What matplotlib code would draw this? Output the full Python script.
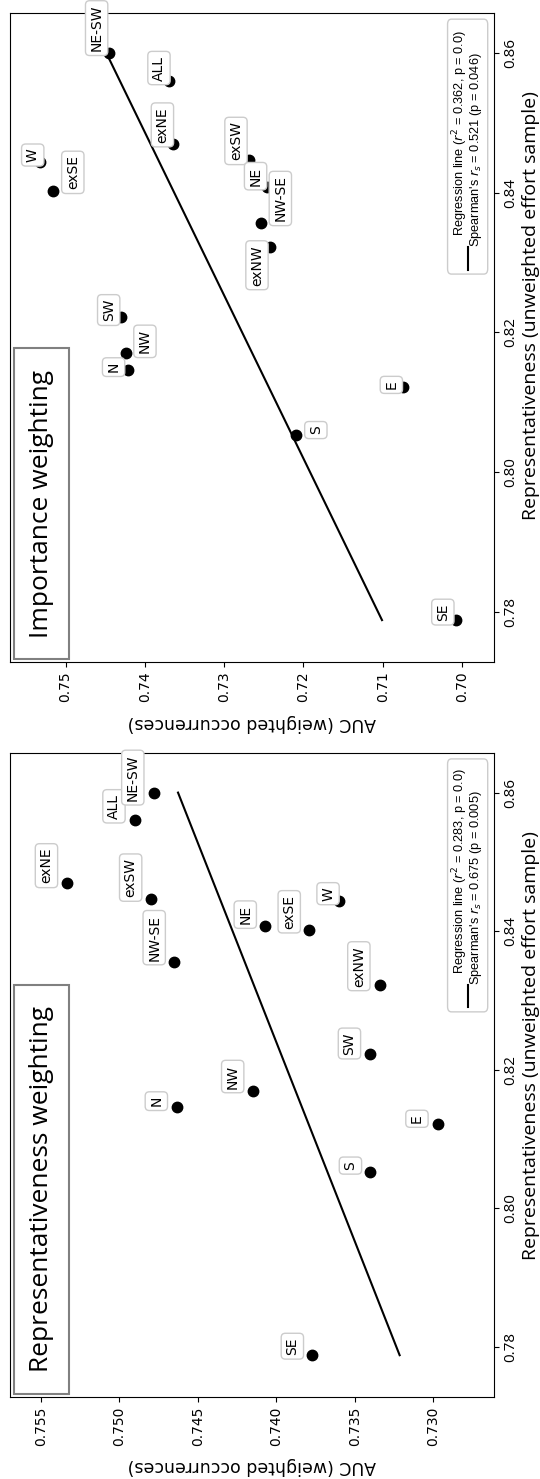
import numpy as np
import matplotlib
matplotlib.use('Agg')
import matplotlib.pyplot as plt
from matplotlib.patches import FancyBboxPatch

# Dados (figura girada 90 graus: AUC na horizontal, representatividade na vertical)
labels = ['ALL', 'NE-SW', 'exNE', 'exSW', 'W', 'exSE', 'NE', 'NW-SE',
          'exNW', 'SW', 'NW', 'N', 'E', 'S', 'SE']
rep = [0.856, 0.860, 0.847, 0.8447, 0.8444, 0.8402, 0.8408, 0.8356,
       0.8322, 0.8222, 0.817, 0.8146, 0.8122, 0.8053, 0.7788]
auc_importance = [0.73695, 0.74456, 0.73639, 0.72686, 0.75325, 0.7516, 0.72464, 0.7253,
                  0.72421, 0.74304, 0.74238, 0.74217, 0.70739, 0.72095, 0.70077]
auc_representativeness = [0.7490, 0.7478, 0.7533, 0.7480, 0.7360, 0.7379, 0.7407, 0.7465,
                          0.7334, 0.7340, 0.7415, 0.7463, 0.7297, 0.7340, 0.7377]
stats_importance = ['0.362', '0.0', '0.521', '0.046']
stats_representativeness = ['0.283', '0.0', '0.675', '0.005']

# deslocamento dos rotulos (pixels)
off_importance = {'NE-SW': (-12, 25), 'ALL': (-10, 13), 'exNE': (-11, 19), 'W': (-7, 7),
                  'exSE': (20, 19), 'exSW': (-13, 19), 'NE': (-11, 11), 'NW-SE': (19, 25),
                  'exNW': (-13, -18), 'SW': (-12, 7), 'NW': (19, 12), 'N': (-14, 3),
                  'E': (-12, 2), 'S': (20, 5), 'SE': (-13, 8)}
off_representativeness = {'NE-SW': (-21, 15), 'ALL': (-21, 14), 'exNE': (-21, 17),
                          'exSW': (-20, 21), 'NW-SE': (-20, 24), 'NE': (-20, 11),
                          'exSE': (-20, 18), 'W': (-11, 7), 'exNW': (-21, 19), 'SW': (-21, 11),
                          'NW': (-20, 14), 'N': (-21, 6), 'E': (-21, 5), 'S': (-20, 6),
                          'SE': (-20, 9)}

plt.rcParams['font.family'] = 'DejaVu Sans'
humanist = ['Open Sans', 'DejaVu Sans']
legfont = ['Liberation Sans', 'DejaVu Sans']

fig = plt.figure(figsize=(5.4, 14.79), dpi=100)
ax_top = fig.add_axes([0.0194, 0.5524, 0.8954, 0.4386])
ax_bot = fig.add_axes([0.0194, 0.0556, 0.8954, 0.4352])


def painel(ax, auc, titulo, stats, offsets, xlim, xticks, ylab_pos):
    ax.plot(auc, rep, 'o', color='black', markersize=7.5, zorder=3)

    # Regressao linear
    slope, intercept = np.polyfit(rep, auc, 1)
    r_range = np.array([min(rep), max(rep)])
    ax.plot(slope * r_range + intercept, r_range, color='black', lw=1.5)

    for lab, a, r in zip(labels, auc, rep):
        ax.annotate(lab, (a, r), xytext=offsets[lab], textcoords='offset pixels',
                    rotation=90, ha='center', va='center', fontsize=10,
                    bbox=dict(boxstyle='round,pad=0.3', fc='white', ec='#cccccc', lw=1),
                    annotation_clip=False, zorder=4)

    ax.set_xlim(*xlim)
    ax.set_ylim(0.7728, 0.8657)
    ax.set_xticks(xticks)
    ax.set_yticks([0.78, 0.80, 0.82, 0.84, 0.86])
    ax.yaxis.tick_right()
    ax.tick_params(axis='x', labelrotation=90, labelsize=10)
    ax.tick_params(axis='y', labelrotation=90, labelsize=11)
    for t in ax.yaxis.get_major_ticks():
        t.label2.set_va('center')
        t.label2.set_family(humanist)

    ax.set_xlabel('AUC (weighted occurrences)', rotation=180, fontsize=12.5, labelpad=8)
    ax.yaxis.set_label_position('right')
    ax.set_ylabel('Representativeness (unweighted effort sample)', rotation=90,
                  fontsize=14, family=humanist)
    ax.yaxis.set_label_coords(1.057, ylab_pos)

    # Caixa do titulo
    h_px = ax.get_position().height * fig.get_figheight() * fig.dpi
    w_px = ax.get_position().width * fig.get_figwidth() * fig.dpi
    ax.text(18.5 / w_px, 17.5 / h_px, ' ' + titulo + ' ', transform=ax.transAxes,
            rotation=90, ha='left', va='bottom', fontsize=19, family=humanist,
            bbox=dict(boxstyle='square,pad=0.56', fc='white', ec='gray', lw=1.5))

    # Legenda desenhada a mao (girada)
    ax.add_patch(FancyBboxPatch((0.904, 0.598), 0.083, 0.393, transform=ax.transAxes,
                                boxstyle='round,pad=0,rounding_size=0.008',
                                fc='white', ec='#cccccc', lw=1, zorder=5))
    ax.plot([0.947, 0.947], [0.605, 0.640], transform=ax.transAxes, color='black',
            lw=1.5, zorder=6)
    ax.text(0.9297, 0.657, 'Regression line ($r^2$ = %s, p = %s)' % (stats[0], stats[1]),
            transform=ax.transAxes, rotation=90, ha='center', va='bottom',
            fontsize=9.2, family=legfont, zorder=6)
    ax.text(0.9638, 0.640, "Spearman's $r_s$ = %s (p = %s)" % (stats[2], stats[3]),
            transform=ax.transAxes, rotation=90, ha='center', va='bottom',
            fontsize=9.2, family=legfont, zorder=6)


painel(ax_top, auc_importance, 'Importance weighting', stats_importance, off_importance,
       (0.75694, 0.69596), [0.70, 0.71, 0.72, 0.73, 0.74, 0.75], 0.55)
painel(ax_bot, auc_representativeness, 'Representativeness weighting',
       stats_representativeness, off_representativeness,
       (0.75693, 0.72613), [0.730, 0.735, 0.740, 0.745, 0.750, 0.755], 0.545)

fig.savefig('out.png', dpi=100)
